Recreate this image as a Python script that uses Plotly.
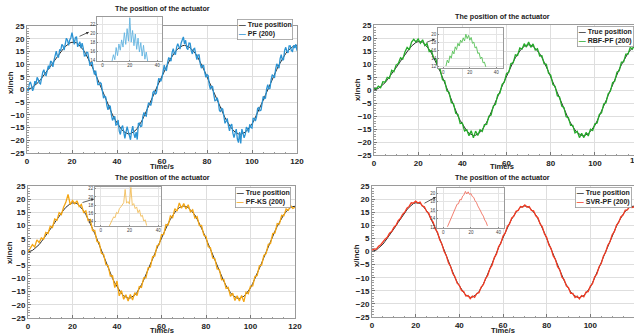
import plotly.graph_objects as go

# ---------------- data ----------------
time_s = list(range(0, 121))
time_half_s = [i * 0.5 for i in range(0, 241)]

true_position = [
    0.0, 0.2, 0.6, 1.3, 2.0, 2.8, 3.9, 5.0, 6.2, 7.3, 8.5, 9.8, 11.1, 12.4, 13.6, 14.8, 15.9, 16.9, 17.7, 18.3,
    18.6, 18.6, 18.4, 17.6, 16.7, 15.6, 14.2, 12.6, 10.8, 8.9, 7.0, 4.8, 2.6, 0.4, -1.8, -4.0, -6.0, -8.0, -10.0, -11.7,
    -13.2, -14.5, -15.7, -16.6, -17.2, -17.5, -17.4, -17.0, -16.3, -15.3, -14.0, -12.4, -10.6, -8.7, -6.8, -4.8, -2.7, -0.6, 1.5, 3.5,
    5.5, 7.4, 9.2, 10.8, 12.4, 13.8, 15.0, 16.0, 16.8, 17.2, 17.4, 17.2, 16.8, 16.0, 15.1, 14.0, 12.5, 10.9, 9.0, 7.1,
    5.0, 2.9, 0.8, -1.3, -3.4, -5.4, -7.4, -9.3, -11.1, -12.7, -14.2, -15.4, -16.4, -17.1, -17.5, -17.6, -17.3, -16.8, -15.9, -14.9,
    -13.6, -11.9, -10.1, -8.2, -6.2, -4.2, -2.1, 0.0, 2.0, 4.0, 6.0, 7.9, 9.7, 11.4, 12.9, 14.2, 15.3, 16.2, 16.8, 17.2,
    17.3,
]

pf_200 = [
    0.5, -0.7, 2.1, 3.0, 1.5, -0.5, 0.7, 3.3, 2.2, 4.8, 3.9, 2.5, 2.2, 5.0, 6.8, 7.8, 5.8, 5.5, 8.2, 9.4,
    8.2, 11.2, 10.8, 8.9, 11.5, 13.6, 15.1, 13.1, 12.6, 15.6, 15.4, 17.8, 17.2, 15.5, 17.7, 20.2, 19.4, 17.4, 19.5, 20.4,
    22.4, 19.5, 17.8, 20.4, 20.8, 16.8, 18.1, 18.8, 16.3, 18.2, 16.3, 13.2, 13.3, 14.7, 14.6, 11.1, 9.3, 10.6, 10.6, 7.6,
    5.9, 7.4, 5.2, 1.9, 1.9, 2.7, 2.3, -1.2, -3.4, -2.6, -3.0, -6.3, -8.0, -6.4, -6.6, -9.9, -12.2, -11.2, -10.6, -14.0,
    -13.8, -12.0, -16.4, -17.7, -15.0, -14.2, -17.7, -19.2, -16.8, -14.6, -16.5, -19.0, -19.8, -16.3, -14.4, -17.4, -19.0, -16.8, -19.7, -13.4,
    -13.2, -14.6, -14.4, -10.6, -9.0, -10.2, -10.5, -7.2, -5.4, -5.6, -6.3, -4.4, -1.1, -0.6, -1.8, -1.4, 1.9, 4.2, 4.1, 3.2,
    4.7, 7.8, 9.6, 7.8, 7.6, 10.7, 12.6, 11.9, 11.2, 14.6, 16.1, 14.0, 13.9, 16.7, 18.0, 16.9, 15.9, 18.3, 19.8, 20.7,
    18.0, 19.4, 16.3, 15.7, 18.3, 18.2, 15.3, 14.0, 15.9, 16.2, 13.8, 11.8, 13.6, 13.6, 10.1, 8.4, 9.5, 9.4, 6.7, 4.8,
    5.9, 5.5, 1.8, 0.1, 1.3, 1.1, -1.9, -4.4, -4.3, -3.2, -4.7, -8.2, -8.8, -7.4, -7.7, -11.2, -13.3, -12.4, -11.4, -14.2,
    -16.3, -14.2, -13.6, -17.2, -18.9, -17.2, -15.6, -19.5, -20.9, -16.8, -21.2, -15.6, -17.0, -19.0, -17.7, -14.8, -15.5, -16.9, -13.7, -15.0,
    -15.2, -11.4, -11.4, -12.4, -10.9, -7.4, -7.1, -8.4, -8.1, -4.6, -2.7, -3.6, -3.4, 0.2, 1.9, 0.3, 0.5, 3.9, 5.8, 5.3,
    4.6, 8.0, 10.1, 9.2, 8.4, 12.2, 13.7, 11.6, 11.7, 15.4, 16.6, 15.0, 14.4, 17.2, 17.2, 15.3, 15.0, 17.4, 16.3, 17.8,
    15.3,
]

rbf_pf_200 = [
    0.6, 0.5, 1.5, 0.9, 3.2, 3.0, 4.9, 4.5, 7.6, 7.0, 9.6, 10.2, 12.4, 11.8, 14.6, 16.4, 15.5, 18.4, 19.5, 18.5,
    19.6, 18.0, 19.3, 17.1, 17.9, 14.8, 15.2, 12.2, 12.0, 8.3, 7.8, 3.9, 3.6, -0.3, -0.9, -4.8, -5.3, -9.0, -9.4, -12.9,
    -12.7, -15.8, -15.3, -17.6, -15.7, -18.4, -15.8, -17.5, -15.3, -15.9, -13.3, -13.2, -10.1, -9.6, -6.2, -5.5, -1.9, -1.2, 2.2, 3.0,
    6.4, 6.8, 10.2, 10.4, 13.5, 13.3, 16.2, 15.7, 17.8, 16.5, 18.5, 16.4, 17.7, 15.4, 15.9, 13.1, 13.2, 10.1, 9.9, 6.5,
    5.7, 2.1, 1.4, -2.2, -2.7, -6.2, -6.8, -10.3, -10.6, -13.6, -13.6, -16.5, -15.9, -18.3, -16.7, -18.3, -16.3, -17.7, -15.1, -15.6,
    -13.0, -12.7, -9.4, -8.8, -5.4, -4.9, -1.5, -0.5, 2.8, 3.4, 6.9, 7.4, 10.7, 10.8, 13.8, 13.8, 16.4, 15.7, 17.8, 16.3,
    16.7,
]

pf_ks_200 = [
    0.0, 1.2, 2.8, 1.9, 4.6, 3.6, 5.3, 4.8, 7.4, 7.0, 9.8, 9.3, 12.5, 12.0, 14.9, 14.2, 17.0, 18.8, 21.8, 17.9,
    19.5, 18.3, 19.4, 17.2, 18.0, 15.0, 15.6, 11.9, 12.3, 8.1, 8.2, 4.0, 3.6, -0.5, -0.9, -4.8, -5.2, -9.1, -9.0, -13.5,
    -11.0, -16.6, -14.6, -17.9, -16.2, -18.6, -16.1, -18.2, -15.4, -16.5, -13.1, -13.4, -9.8, -9.8, -6.0, -5.7, -1.8, -1.5, 2.4, 2.8,
    6.6, 6.7, 10.4, 10.2, 13.7, 13.0, 16.4, 15.5, 18.6, 16.6, 18.4, 16.3, 17.9, 15.2, 16.0, 12.9, 13.4, 10.0, 10.1, 6.4,
    5.9, 2.0, 1.6, -2.3, -2.6, -6.4, -6.6, -10.5, -10.4, -13.8, -13.4, -16.8, -15.6, -18.4, -16.6, -18.6, -16.5, -18.9, -15.2, -15.8,
    -12.9, -12.8, -9.3, -8.9, -5.2, -5.0, -1.3, -0.6, 2.9, 3.2, 7.0, 7.2, 10.8, 10.6, 13.9, 13.7, 16.3, 15.8, 17.6, 16.5,
    16.9,
]

svr_pf_200 = [
    0.5, 1.0, 0.9, 2.0, 2.6, 3.8, 4.7, 5.4, 7.0, 7.6, 9.2, 10.0, 11.8, 12.6, 14.2, 15.0, 16.5, 17.2, 18.6, 18.5,
    19.2, 18.5, 18.9, 17.4, 17.1, 15.3, 14.6, 12.3, 11.2, 8.6, 7.3, 4.5, 2.9, 0.1, -1.5, -4.3, -5.7, -8.4, -9.7, -12.1,
    -12.9, -14.9, -15.3, -17.0, -16.8, -18.0, -17.0, -17.5, -16.0, -15.7, -13.6, -12.7, -10.3, -9.1, -6.5, -5.2, -2.3, -1.0, 1.9, 3.1,
    5.9, 7.0, 9.6, 10.5, 12.8, 13.5, 15.4, 15.7, 17.2, 16.9, 17.8, 16.9, 17.2, 15.7, 15.5, 13.6, 12.9, 10.5, 9.4, 6.7,
    5.4, 2.5, 1.2, -1.7, -3.0, -5.8, -7.0, -9.8, -10.7, -13.1, -13.8, -16.0, -16.0, -17.6, -17.0, -18.1, -16.8, -17.3, -15.5, -15.3,
    -13.2, -12.3, -9.7, -8.6, -5.8, -4.6, -1.7, -0.3, 2.4, 3.7, 6.4, 7.6, 10.1, 11.1, 13.3, 13.9, 15.8, 15.9, 17.3, 16.8,
    17.0,
]

# zoomed inset data (sample index vs. position)
inset_pf_x = list(range(7, 34))
inset_pf_y = [13.8, 15.2, 14.1, 16.8, 15.0, 17.6, 16.2, 18.5, 16.9, 20.1, 17.5, 21.0, 18.2, 23.4, 18.0, 20.6, 17.2, 19.8,
              16.4, 18.9, 15.8, 17.9, 14.9, 17.3, 14.2, 15.8, 13.8]
inset_rbf_x = list(range(2, 33))
inset_rbf_y = [12.0, 13.5, 12.8, 14.6, 14.0, 15.8, 15.1, 16.9, 16.2, 17.8, 17.1, 18.6, 18.0, 19.2, 18.4, 20.1, 19.0, 19.8,
               18.6, 19.3, 17.8, 18.1, 16.6, 16.9, 15.2, 15.4, 13.9, 14.3, 12.8, 13.0, 11.8]
inset_ks_x = list(range(6, 33))
inset_ks_y = [13.0, 13.8, 14.5, 15.2, 15.0, 16.3, 16.0, 17.2, 17.6, 18.2, 18.6, 21.8, 18.5, 18.9, 18.3, 22.3, 18.0, 18.4,
              17.2, 17.6, 16.2, 16.9, 15.3, 15.6, 14.2, 14.5, 13.1]
inset_svr_x = list(range(3, 33))
inset_svr_y = [12.1, 12.9, 13.4, 14.5, 15.0, 16.1, 16.5, 17.4, 17.5, 18.5, 18.4, 19.3, 19.6, 20.4, 19.8, 20.3, 19.7, 19.9,
               19.2, 19.0, 18.2, 17.8, 17.0, 16.5, 15.8, 15.1, 14.6, 13.7, 13.2, 12.3]

x_ticks = [0, 20, 40, 60, 80, 100, 120]
y_ticks = [-25, -20, -15, -10, -5, 0, 5, 10, 15, 20, 25]
title_text = "The position of the actuator"
true_name = "True position"

# ---------------- layout helpers ----------------
W, H = 634, 335
FONT = "Liberation Sans, Arial, sans-serif"
TXT = "#222222"


def fx(p):
    return p / W


def fy(p):
    return 1 - p / H


panels = [
    dict(name="PF (200)", color="#2b93d3", light="#62b3e0", tx=time_half_s, ty=pf_200,
         dom=(27, 297, 26, 153), xmax=120,
         ins=(97, 162, 17, 61), ixr=(-4, 43.5), iyr=(13.8, 23.6), iyt=[14, 16, 18, 20, 22],
         ix=inset_pf_x, iy=inset_pf_y,
         title=(162, 9), xlab=(162, 166), ylab=(10, 83), leg=(237, 19), arrow=(89, 32, -11, 5)),
    dict(name="RBF-PF (200)", color="#25ab2a", light="#55bf55", tx=time_s, ty=rbf_pf_200,
         dom=(374, 634, 25, 155), xmax=117.7,
         ins=(438, 503, 28, 68), ixr=(-4, 45), iyr=(11.5, 21.7), iyt=[12, 14, 16, 18, 20],
         ix=inset_rbf_x, iy=inset_rbf_y,
         title=(503, 17), xlab=(502, 167), ylab=(357, 90), leg=(577, 26), arrow=(435, 39, -10, 4)),
    dict(name="PF-KS (200)", color="#f4a614", light="#f2bd5a", tx=time_s, ty=pf_ks_200,
         dom=(28, 295, 186, 318), xmax=120,
         ins=(95, 161, 187, 226), ixr=(-4, 42), iyr=(13, 22.4), iyt=[14, 16, 18, 20, 22],
         ix=inset_ks_x, iy=inset_ks_y,
         title=(162, 177), xlab=(162, 330), ylab=(9, 253), leg=(235, 187), arrow=(94, 199, -13, 4)),
    dict(name="SVR-PF (200)", color="#f53a22", light="#f07060", tx=time_s, ty=svr_pf_200,
         dom=(372, 634, 186, 317), xmax=120,
         ins=(437, 504, 188, 228), ixr=(-4.6, 44), iyr=(11.8, 21.2), iyt=[12, 14, 16, 18, 20],
         ix=inset_svr_x, iy=inset_svr_y,
         title=(503, 177), xlab=(503, 330), ylab=(356, 255), leg=(575, 187), arrow=(436, 197, -13, 7)),
]

fig = go.Figure()
layout = dict(
    width=W, height=H, margin=dict(l=0, r=0, t=0, b=0, autoexpand=False),
    paper_bgcolor="white", plot_bgcolor="white", showlegend=False,
    font=dict(family=FONT, color=TXT),
)
annotations = []

tick_font = dict(family=FONT, size=8, color=TXT, weight="bold")

for i, p in enumerate(panels):
    k = i + 1
    ki = i + 5
    xa = "x" if k == 1 else f"x{k}"
    ya = "y" if k == 1 else f"y{k}"
    xi, yi = f"x{ki}", f"y{ki}"
    x0, x1, y0, y1 = p["dom"]
    layout["xaxis" if k == 1 else f"xaxis{k}"] = dict(
        domain=[fx(x0), fx(x1)], anchor=ya, range=[0, p["xmax"]], tickvals=x_ticks,
        automargin=False,
        showgrid=True, gridcolor="#dedede", gridwidth=0.8, zeroline=False,
        showline=True, mirror=True, linecolor="#9a9a9a", linewidth=1,
        ticks="inside", ticklen=3, tickcolor="#777", tickfont=tick_font,
        minor=dict(ticks="inside", ticklen=1.5, dtick=5, tickcolor="#999", showgrid=False),
    )
    layout["yaxis" if k == 1 else f"yaxis{k}"] = dict(
        domain=[fy(y1), fy(y0)], anchor=xa, range=[-25, 25], tickvals=y_ticks,
        automargin=False,
        showgrid=True, gridcolor="#dedede", gridwidth=0.8, zeroline=False,
        showline=True, mirror=True, linecolor="#9a9a9a", linewidth=1,
        ticks="inside", ticklen=3, tickcolor="#777", tickfont=tick_font,
        minor=dict(ticks="inside", ticklen=1.5, dtick=1, tickcolor="#999", showgrid=False),
    )
    fig.add_trace(go.Scatter(x=time_s, y=true_position, mode="lines", name=true_name,
                             line=dict(color="#2a2a2a", width=1.0), xaxis=xa, yaxis=ya))
    fig.add_trace(go.Scatter(x=p["tx"], y=p["ty"], mode="lines", name=p["name"],
                             line=dict(color=p["color"], width=1.3), xaxis=xa, yaxis=ya))

    # inset
    a0, a1, b0, b1 = p["ins"]
    inset_font = dict(family=FONT, size=4.5, color="#444")
    layout[f"xaxis{ki}"] = dict(
        domain=[fx(a0), fx(a1)], anchor=yi, range=list(p["ixr"]), tickvals=[0, 20, 40],
        automargin=False,
        showgrid=True, gridcolor="#e4e4e4", gridwidth=0.6, zeroline=False,
        showline=True, mirror=True, linecolor="#9a9a9a", linewidth=0.8,
        ticks="inside", ticklen=1.5, tickcolor="#888", tickfont=inset_font,
    )
    layout[f"yaxis{ki}"] = dict(
        domain=[fy(b1), fy(b0)], anchor=xi, range=list(p["iyr"]), tickvals=p["iyt"],
        automargin=False,
        showgrid=True, gridcolor="#e4e4e4", gridwidth=0.6, zeroline=False,
        showline=True, mirror=True, linecolor="#9a9a9a", linewidth=0.8,
        ticks="inside", ticklen=1.5, tickcolor="#888", tickfont=inset_font,
    )
    fig.add_trace(go.Scatter(x=p["ix"], y=p["iy"], mode="lines", name=p["name"] + " (zoom)",
                             line=dict(color=p["light"], width=0.9), xaxis=xi, yaxis=yi))
    # white background for inset
    layout.setdefault("shapes", []).append(dict(
        type="rect", xref="paper", yref="paper", x0=fx(a0), x1=fx(a1), y0=fy(b1), y1=fy(b0),
        fillcolor="white", line=dict(width=0), layer="below"))

    # texts
    tx, ty = p["title"]
    annotations.append(dict(text=title_text, x=fx(tx), y=fy(ty), xref="paper", yref="paper",
                            showarrow=False, xanchor="center", yanchor="middle",
                            font=dict(family=FONT, size=7.2, color=TXT, weight="bold")))
    lx, ly = p["xlab"]
    annotations.append(dict(text="Time/s", x=fx(lx), y=fy(ly), xref="paper", yref="paper",
                            showarrow=False, xanchor="center", yanchor="middle",
                            font=dict(family=FONT, size=7.6, color=TXT, weight="bold")))
    vx, vy = p["ylab"]
    annotations.append(dict(text="x/inch", x=fx(vx), y=fy(vy), xref="paper", yref="paper",
                            showarrow=False, xanchor="center", yanchor="middle", textangle=-90,
                            font=dict(family=FONT, size=7.8, color=TXT, weight="bold")))
    gx, gy = p["leg"]
    leg_text = (f"<span style='color:#2a2a2a'>—</span> {true_name}<br>"
                f"<span style='color:{p['color']}'>—</span> {p['name']}")
    annotations.append(dict(text=leg_text, x=fx(gx), y=fy(gy), xref="paper", yref="paper",
                            showarrow=False, xanchor="left", yanchor="top", align="left",
                            bgcolor="white", bordercolor="#9a9a9a", borderwidth=0.8, borderpad=1,
                            font=dict(family=FONT, size=7, color=TXT, weight="bold")))
    hx, hy, dx, dy = p["arrow"]
    annotations.append(dict(text="", x=fx(hx), y=fy(hy), xref="paper", yref="paper",
                            showarrow=True, ax=dx, ay=dy, arrowhead=2, arrowsize=0.7,
                            arrowwidth=0.8, arrowcolor="#333"))

# partially visible "120" on the clipped top-right axis
annotations.append(dict(text="120", x=fx(637), y=fy(160), xref="paper", yref="paper",
                        showarrow=False, xanchor="center", yanchor="middle",
                        font=dict(family=FONT, size=8, color=TXT, weight="bold")))

layout["annotations"] = annotations
fig.update_layout(**layout)
fig.write_html("out.html", config={"displayModeBar": False},
               post_script="document.body.style.margin='0';document.body.style.padding='0';")
